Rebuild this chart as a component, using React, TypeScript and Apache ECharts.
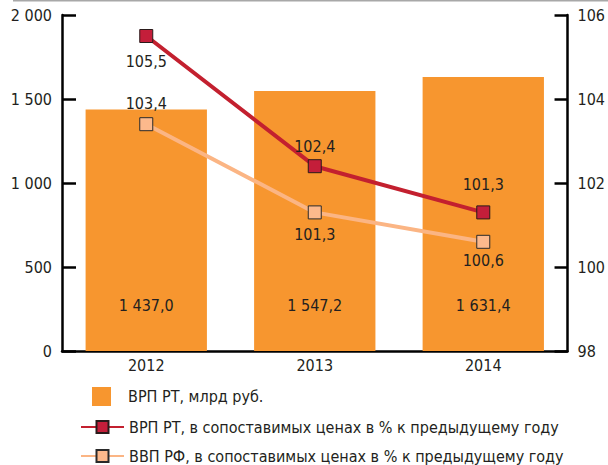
import React, { useEffect, useRef } from "react";
import * as echarts from "echarts";

const years = ["2012", "2013", "2014"];
const grpValues = [1437.0, 1547.2, 1631.4];
const grpRtIndex = [105.5, 102.4, 101.3];
const gdpRfIndex = [103.4, 101.3, 100.6];
const leftTicks = [0, 500, 1000, 1500, 2000];
const rightTicks = [98, 100, 102, 104, 106];

const seriesNames = [
  "ВРП РТ, млрд руб.",
  "ВРП РТ, в сопоставимых ценах в % к предыдущему году",
  "ВВП РФ, в сопоставимых ценах в % к предыдущему году",
];

const FONT = "'Liberation Sans Narrow', 'DejaVu Sans Condensed', 'Roboto Condensed', Roboto, sans-serif";
const TEXT = "#231F20";

const fmtThousands = (v: number, digits: number) => {
  const s = v.toFixed(digits).replace(".", ",");
  const [int, frac] = s.split(",");
  const intSp = int.replace(/\B(?=(\d{3})+(?!\d))/g, " ");
  return frac !== undefined ? intSp + "," + frac : intSp;
};

const redLabelCfg = [
  { position: "bottom", distance: 10 },
  { position: "top", distance: 5 },
  { position: "top", distance: 13 },
];
const lightLabelCfg = [
  { position: "top", distance: 6 },
  { position: "bottom", distance: 7 },
  { position: "bottom", distance: 4 },
];

export default function App() {
  const ref = useRef<HTMLDivElement>(null);
  useEffect(() => {
    if (!ref.current) return;
    const chart = echarts.init(ref.current, null, { renderer: "svg" });
    const labelText = { fontFamily: FONT, fontSize: 16, color: TEXT };
    const option: any = {
      animation: false,
      backgroundColor: "#ffffff",
      textStyle: { fontFamily: FONT },
      graphic: [
        {
          type: "line",
          shape: { x1: 13, y1: 0.75, x2: 608, y2: 0.75 },
          style: { stroke: "#a8a8a8", lineWidth: 1.5 },
        },
      ],
      grid: { left: 62, right: 39, top: 15, bottom: 114 },
      legend: [
        {
          data: [{ name: seriesNames[0], icon: "rect" }],
          left: 87,
          top: 382,
          itemWidth: 19,
          itemHeight: 19,
          itemGap: 0,
          textStyle: { ...labelText, padding: [0, 0, 0, 12] },
        },
        {
          data: [seriesNames[1]],
          left: 75,
          top: 414,
          itemWidth: 43,
          itemHeight: 15,
          textStyle: { ...labelText },
          itemGap: 0,
        },
        {
          data: [seriesNames[2]],
          left: 75,
          top: 443,
          itemWidth: 43,
          itemHeight: 15,
          textStyle: { ...labelText },
          itemGap: 0,
        },
      ],
      xAxis: {
        type: "category",
        data: years,
        boundaryGap: true,
        axisLine: { lineStyle: { color: "#000", width: 2.5 } },
        axisTick: { inside: true, length: 8, lineStyle: { color: "#000", width: 2.5 } },
        axisLabel: { ...labelText, margin: 6 },
      },
      yAxis: [
        {
          type: "value",
          min: leftTicks[0],
          max: leftTicks[leftTicks.length - 1],
          interval: 500,
          splitLine: { show: false },
          axisLine: { show: true, lineStyle: { color: "#000", width: 2.5 } },
          axisTick: { show: true, inside: true, length: 14, lineStyle: { color: "#000", width: 2.5 } },
          axisLabel: {
            ...labelText,
            margin: 10,
            padding: [12, 0, 0, 0],
            formatter: (v: number) => fmtThousands(v, 0),
          },
        },
        {
          type: "value",
          min: rightTicks[0],
          max: rightTicks[rightTicks.length - 1],
          interval: 2,
          splitLine: { show: false },
          axisLine: { show: true, lineStyle: { color: "#000", width: 2.5 } },
          axisTick: { show: true, inside: true, length: 13, lineStyle: { color: "#000", width: 2.5 } },
          axisLabel: { ...labelText, margin: 10, padding: [12, 0, 0, 0] },
        },
      ],
      series: [
        {
          name: seriesNames[0],
          type: "bar",
          data: grpValues,
          barWidth: "72%",
          itemStyle: { color: "#F7962F" },
          label: {
            show: true,
            position: "insideBottom",
            distance: 38,
            ...labelText,
            formatter: (p: any) => fmtThousands(p.value, 1),
          },
        },
        {
          name: seriesNames[1],
          type: "line",
          yAxisIndex: 1,
          data: grpRtIndex.map((v, i) => ({
            value: v,
            label: { position: redLabelCfg[i].position, distance: redLabelCfg[i].distance },
          })),
          symbol: "rect",
          symbolSize: 13,
          lineStyle: { color: "#C3202F", width: 4 },
          itemStyle: { color: "#C41E3A", borderColor: "#2a1a1a", borderWidth: 1 },
          label: {
            show: true,
            ...labelText,
            formatter: (p: any) => String(p.value).replace(".", ","),
          },
          z: 3,
        },
        {
          name: seriesNames[2],
          type: "line",
          yAxisIndex: 1,
          data: gdpRfIndex.map((v, i) => ({
            value: v,
            label: { position: lightLabelCfg[i].position, distance: lightLabelCfg[i].distance },
          })),
          symbol: "rect",
          symbolSize: 13,
          lineStyle: { color: "#FBB584", width: 4 },
          itemStyle: { color: "#FCB98C", borderColor: "#2a2a2a", borderWidth: 1 },
          label: {
            show: true,
            ...labelText,
            formatter: (p: any) => String(p.value).replace(".", ","),
          },
          z: 4,
        },
      ],
    };
    chart.setOption(option);
    return () => chart.dispose();
  }, []);
  return (
    <div
      ref={ref}
      style={{ position: "fixed", left: 0, top: 0, width: 608, height: 465 }}
    />
  );
}
